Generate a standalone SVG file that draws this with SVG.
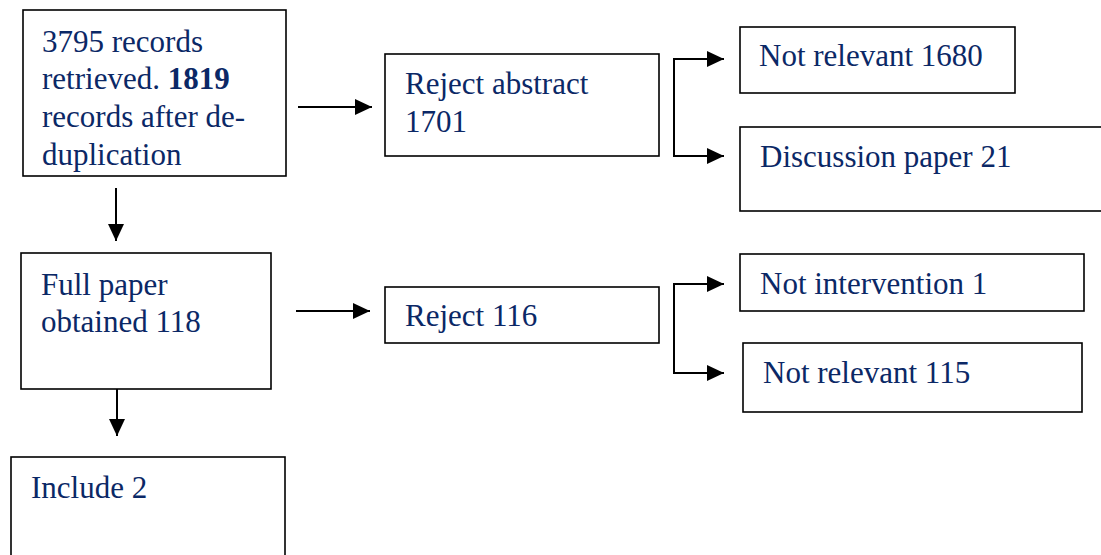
<svg xmlns="http://www.w3.org/2000/svg" width="1101" height="555" viewBox="0 0 1101 555">
<style>
.box{fill:#fff;stroke:#000;stroke-width:1.6}
.t{font-family:"Liberation Serif","Times New Roman",serif;font-size:31px;fill:#0b2866}
.b{font-weight:bold}
.c{fill:none;stroke:#000;stroke-width:2;marker-end:url(#ah)}
</style>
<defs>
<marker id="ah" markerUnits="userSpaceOnUse" markerWidth="17" markerHeight="16" refX="17" refY="8" orient="auto">
<path d="M0,0 L17,8 L0,16 Z" fill="#000"/>
</marker>
</defs>
<rect width="1101" height="555" fill="#fff"/>
<g id="n-records">
<rect class="box" x="23" y="10" width="263" height="166"/>
<text class="t" x="42" y="52">3795 records</text>
<text class="t" x="42" y="89">retrieved. <tspan class="b">1819</tspan></text>
<text class="t" x="42" y="127">records after de-</text>
<text class="t" x="42" y="165">duplication</text>
</g>
<g id="n-reject-abstract">
<rect class="box" x="385" y="54" width="274" height="102"/>
<text class="t" x="405" y="94">Reject abstract</text>
<text class="t" x="405" y="132">1701</text>
</g>
<g id="n-not-relevant-1680">
<rect class="box" x="740" y="27" width="275" height="66"/>
<text class="t" x="759" y="66">Not relevant 1680</text>
</g>
<g id="n-discussion">
<rect class="box" x="740" y="127" width="370" height="84"/>
<text class="t" x="760" y="167">Discussion paper 21</text>
</g>
<g id="n-full-paper">
<rect class="box" x="21" y="253" width="250" height="136"/>
<text class="t" x="41" y="295">Full paper</text>
<text class="t" x="41" y="332">obtained 118</text>
</g>
<g id="n-reject-116">
<rect class="box" x="385" y="287" width="274" height="56"/>
<text class="t" x="405" y="326">Reject 116</text>
</g>
<g id="n-not-intervention">
<rect class="box" x="740" y="254" width="344" height="57"/>
<text class="t" x="760" y="294">Not intervention 1</text>
</g>
<g id="n-not-relevant-115">
<rect class="box" x="743" y="343" width="339" height="69"/>
<text class="t" x="763" y="383">Not relevant 115</text>
</g>
<g id="n-include">
<rect class="box" x="11" y="457" width="274" height="110"/>
<text class="t" x="31" y="498">Include 2</text>
</g>
<g id="connectors">
<path class="c" d="M298,107 H372"/>
<path class="c" d="M116,188 V241"/>
<path class="c" d="M724,59 H674 V156 H724" style="marker-end:none"/>
<path class="c" d="M700,59 H724"/>
<path class="c" d="M700,156 H724"/>
<path class="c" d="M296,311 H370"/>
<path class="c" d="M117,389 V436"/>
<path class="c" d="M724,284 H674 V373 H724" style="marker-end:none"/>
<path class="c" d="M700,284 H724"/>
<path class="c" d="M700,373 H724"/>
</g>
</svg>
